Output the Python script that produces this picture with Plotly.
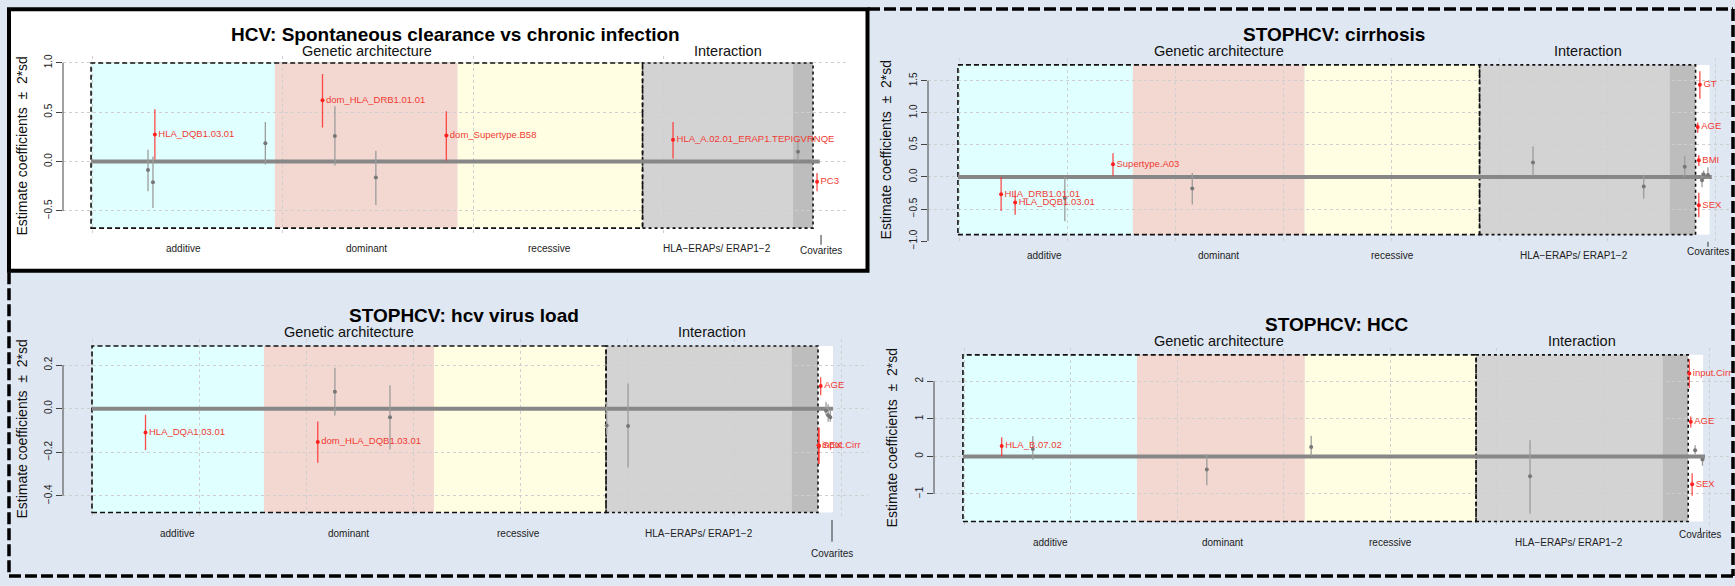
import plotly.graph_objects as go

W, H = 1735, 586
FONT = "Liberation Sans, Arial, Helvetica, sans-serif"

# ------------------------------------------------------------------ data
CATEGORIES = ["additive", "dominant", "recessive", "HLA\u2212ERAPs/ ERAP1\u22122", "Covarites"]
YTITLE = "Estimate coefficients \u00a0\u00b1\u00a0 2*sd"
HEAD_GA = "Genetic architecture"
HEAD_INT = "Interaction"

# Panel 1 : HCV spontaneous clearance
P1_TITLE = "HCV: Spontaneous clearance vs chronic infection"
P1_BOUNDS = [-0.5, 96, 192, 289, 368, 378.5, 378.5]   # additive|dominant|recessive|interaction|dark|white
P1_LABEL_X = [48, 144, 240.4, 328, 382.7]
P1_ZERO_SPAN = [-0.5, 382]
P1_RED_X = [33, 121, 186, 305, 380.6]
P1_RED_EST = [0.275, 0.62, 0.265, 0.22, -0.206]
P1_RED_LO = [0.02, 0.345, 0.01, 0.03, -0.30]
P1_RED_HI = [0.53, 0.886, 0.51, 0.40, -0.117]
P1_RED_LAB = ["HLA_DQB1.03.01", "dom_HLA_DRB1.01.01", "dom_Supertype.B58",
              "HLA_A.02.01_ERAP1.TEPIGVRNQE", "PC3"]
P1_GRAY_X = [29.4, 32, 91, 127.5, 149, 370.6]
P1_GRAY_EST = [-0.087, -0.21, 0.185, 0.26, -0.163, 0.10]
P1_GRAY_LO = [-0.30, -0.47, -0.03, -0.04, -0.44, 0.0]
P1_GRAY_HI = [0.12, 0.05, 0.40, 0.56, 0.11, 0.22]
P1_YTICKS = [-0.5, 0.0, 0.5, 1.0]
P1_YTICKTEXT = ["\u22120.5", "0.0", "0.5", "1.0"]

# Panel 2 : STOPHCV cirrhosis
P2_TITLE = "STOPHCV: cirrhosis"
P2_BOUNDS = [-1, 161, 320, 482, 658, 682, 695]
P2_LABEL_X = [79.6, 240.7, 401, 569, 693.5]
P2_ZERO_SPAN = [-1, 697]
P2_RED_X = [39, 52, 142.6, 686, 684, 685, 685]
P2_RED_EST = [-0.27, -0.40, 0.20, 1.44, 0.78, 0.26, -0.44]
P2_RED_LO = [-0.53, -0.59, 0.02, 1.22, 0.69, 0.17, -0.63]
P2_RED_HI = [0.0, -0.21, 0.37, 1.65, 0.85, 0.34, -0.245]
P2_RED_LAB = ["HLA_DRB1.01.01", "HLA_DQB1.03.01", "Supertype.A03", "GT", "AGE", "BMI", "SEX"]
P2_GRAY_X = [98, 216, 531.5, 634, 672, 688, 689.5, 693.5]
P2_GRAY_EST = [-0.33, -0.18, 0.225, -0.15, 0.16, -0.05, 0.04, 0.03]
P2_GRAY_LO = [-0.69, -0.43, 0.02, -0.34, 0.0, -0.16, 0.0, -0.03]
P2_GRAY_HI = [0.0, 0.06, 0.48, 0.035, 0.33, 0.07, 0.10, 0.15]
P2_YTICKS = [-1.0, -0.5, 0.0, 0.5, 1.0, 1.5]
P2_YTICKTEXT = ["\u22121.0", "\u22120.5", "0.0", "0.5", "1.0", "1.5"]

# Panel 3 : STOPHCV hcv virus load
P3_TITLE = "STOPHCV: hcv virus load"
P3_BOUNDS = [0, 160.7, 319.6, 480.4, 654, 678.5, 692.5]
P3_LABEL_X = [80, 240, 399, 567, 691.6]
P3_ZERO_SPAN = [0, 692.5]
P3_RED_X = [50, 211, 681, 679.5, 679]
P3_RED_EST = [-0.11, -0.153, 0.104, -0.171, -0.168]
P3_RED_LO = [-0.19, -0.248, 0.062, -0.254, -0.25]
P3_RED_HI = [-0.028, -0.059, 0.144, -0.086, -0.09]
P3_RED_LAB = ["HLA_DQA1.03.01", "dom_HLA_DQB1.03.01", "AGE", "SEX", "input.Cirr"]
P3_GRAY_X = [227, 278.5, 481, 501, 686, 688, 690]
P3_GRAY_EST = [0.077, -0.04, -0.077, -0.08, -0.01, -0.03, -0.04]
P3_GRAY_LO = [-0.032, -0.188, -0.12, -0.27, -0.03, -0.06, -0.06]
P3_GRAY_HI = [0.188, 0.107, 0.03, 0.115, 0.03, 0.02, -0.01]
P3_YTICKS = [-0.4, -0.2, 0.0, 0.2]
P3_YTICKTEXT = ["\u22120.4", "\u22120.2", "0.0", "0.2"]

# Panel 4 : STOPHCV HCC
P4_TITLE = "STOPHCV: HCC"
P4_BOUNDS = [-1, 162.4, 320, 480.8, 656, 680, 694]
P4_LABEL_X = [81, 243, 400, 568, 691.5]
P4_ZERO_SPAN = [-1, 695.8]
P4_RED_X = [35.4, 681, 682.4, 683.7]
P4_RED_EST = [0.28, 2.21, 0.92, -0.74]
P4_RED_LO = [0.0, 1.82, 0.77, -1.05]
P4_RED_HI = [0.51, 2.59, 1.06, -0.45]
P4_RED_LAB = ["HLA_B.07.02", "input.Cirr", "AGE", "SEX"]
P4_GRAY_X = [64.6, 228, 326, 531.5, 686.5, 693.4]
P4_GRAY_EST = [0.20, -0.35, 0.25, -0.53, 0.165, -0.08]
P4_GRAY_LO = [-0.09, -0.77, 0.02, -1.53, 0.06, -0.25]
P4_GRAY_HI = [0.54, 0.05, 0.55, 0.43, 0.30, 0.0]
P4_YTICKS = [-1, 0, 1, 2]
P4_YTICKTEXT = ["\u22121", "0", "1", "2"]

# ------------------------------------------------------------------ layout (pixel geometry)
LAYOUT = [
    dict(x0=92, kx=1.905, left=63, right=848, z0=162.3, ky=100.4, top=55.3, bottom=236.7,
         boxtop=62, boxbot=230, title=(455, 33), head_y=50, lab_y=251, cov_y=253,
         cov_tick=(237, 247), ytitle=(22, 147)),
    dict(x0=959, kx=1.08, left=928, right=1733, z0=178, ky=65.2, top=57, bottom=243.7,
         boxtop=64, boxbot=236.7, title=(1334, 33), head_y=50, lab_y=258, cov_y=254,
         cov_tick=(244, 249), ytitle=(886, 150)),
    dict(x0=92, kx=1.07, left=63, right=868, z0=413.7, ky=221.7, top=343.2, bottom=526.1,
         boxtop=350, boxbot=519.3, title=(464, 319), head_y=336, lab_y=541, cov_y=561,
         cov_tick=(527, 549), ytitle=(22, 435)),
    dict(x0=964, kx=1.065, left=934, right=1733, z0=462.3, ky=38.2, top=352.2, bottom=535.3,
         boxtop=359, boxbot=528.5, title=(1337, 328), head_y=345, lab_y=550, cov_y=542,
         cov_tick=(535, 540), ytitle=(892, 444)),
]

PANELS = [
    dict(title=P1_TITLE, bounds=P1_BOUNDS, labx=P1_LABEL_X, zero=P1_ZERO_SPAN,
         red=(P1_RED_X, P1_RED_EST, P1_RED_LO, P1_RED_HI, P1_RED_LAB),
         gray=(P1_GRAY_X, P1_GRAY_EST, P1_GRAY_LO, P1_GRAY_HI),
         yt=P1_YTICKS, ytt=P1_YTICKTEXT),
    dict(title=P2_TITLE, bounds=P2_BOUNDS, labx=P2_LABEL_X, zero=P2_ZERO_SPAN,
         red=(P2_RED_X, P2_RED_EST, P2_RED_LO, P2_RED_HI, P2_RED_LAB),
         gray=(P2_GRAY_X, P2_GRAY_EST, P2_GRAY_LO, P2_GRAY_HI),
         yt=P2_YTICKS, ytt=P2_YTICKTEXT),
    dict(title=P3_TITLE, bounds=P3_BOUNDS, labx=P3_LABEL_X, zero=P3_ZERO_SPAN,
         red=(P3_RED_X, P3_RED_EST, P3_RED_LO, P3_RED_HI, P3_RED_LAB),
         gray=(P3_GRAY_X, P3_GRAY_EST, P3_GRAY_LO, P3_GRAY_HI),
         yt=P3_YTICKS, ytt=P3_YTICKTEXT),
    dict(title=P4_TITLE, bounds=P4_BOUNDS, labx=P4_LABEL_X, zero=P4_ZERO_SPAN,
         red=(P4_RED_X, P4_RED_EST, P4_RED_LO, P4_RED_HI, P4_RED_LAB),
         gray=(P4_GRAY_X, P4_GRAY_EST, P4_GRAY_LO, P4_GRAY_HI),
         yt=P4_YTICKS, ytt=P4_YTICKTEXT),
]

REGION_COLORS = ["#e0ffff", "#f3d8d1", "#fffee3", "#d3d3d3", "#bdbdbd", "#ffffff"]
PAGE_BG = "#dfe7f2"


def px(xp):
    return xp / W


def py(yp):
    return 1 - yp / H


fig = go.Figure()
shapes = []
annotations = []
layout_axes = {}

# page-level backgrounds / borders
shapes.append(dict(type="rect", xref="paper", yref="paper", x0=px(9), x1=px(867.5), y0=py(273.5), y1=py(7.5),
                   fillcolor="white", line=dict(color="black", width=4), layer="below"))
DASH = "12px,4px"
for (xa, ya, xb, yb) in [(868, 7, 1733, 7), (1733, 7, 1733, 584), (9, 584, 1733, 584), (9, 275, 9, 584)]:
    shapes.append(dict(type="line", xref="paper", yref="paper", x0=px(xa), y0=py(ya), x1=px(xb), y1=py(yb),
                       line=dict(color="black", width=3.5, dash=DASH), layer="above"))

for i, (P, L) in enumerate(zip(PANELS, LAYOUT), start=1):
    xa = "x" if i == 1 else f"x{i}"
    ya = "y" if i == 1 else f"y{i}"
    xkey = "xaxis" if i == 1 else f"xaxis{i}"
    ykey = "yaxis" if i == 1 else f"yaxis{i}"

    xr = [(L["left"] - L["x0"]) / L["kx"], (L["right"] - L["x0"]) / L["kx"]]
    yr = [(L["z0"] - L["bottom"]) / L["ky"], (L["z0"] - L["top"]) / L["ky"]]
    btop = (L["z0"] - L["boxtop"]) / L["ky"]
    bbot = (L["z0"] - L["boxbot"]) / L["ky"]

    layout_axes[xkey] = dict(domain=[px(L["left"]), px(L["right"])], range=xr, anchor=ya,
                             showticklabels=False, ticks="", showgrid=True, gridcolor="#cfcfcf",
                             griddash="dot", gridwidth=1, tick0=0, dtick=100, zeroline=False,
                             showline=False, fixedrange=True)
    layout_axes[ykey] = dict(domain=[py(L["bottom"]), py(L["top"])], range=yr, anchor=xa,
                             tickmode="array", tickvals=P["yt"], ticktext=P["ytt"], ticks="outside",
                             ticklen=6, tickcolor="#444", tickwidth=1, tickangle=-90,
                             tickfont=dict(size=10, color="#222", family=FONT),
                             showgrid=True, gridcolor="#cfcfcf", griddash="dot", gridwidth=1,
                             zeroline=False, showline=False, fixedrange=True)

    b = P["bounds"]
    # coloured category regions
    for k in range(6):
        if b[k + 1] <= b[k]:
            continue
        shapes.append(dict(type="rect", xref=xa, yref=ya, x0=b[k], x1=b[k + 1], y0=bbot, y1=btop,
                           fillcolor=REGION_COLORS[k], line=dict(width=0), layer="below"))
    # genetic (dashed) and interaction (dotted) boxes
    shapes.append(dict(type="rect", xref=xa, yref=ya, x0=b[0], x1=b[3], y0=bbot, y1=btop,
                       line=dict(color="#111", width=1.6, dash="5px,3px"), layer="between"))
    shapes.append(dict(type="rect", xref=xa, yref=ya, x0=b[3], x1=b[5], y0=bbot, y1=btop,
                       line=dict(color="#111", width=1.6, dash="dot"), layer="between"))
    # y axis line (between extreme ticks)
    shapes.append(dict(type="line", xref="paper", yref=ya, x0=px(L["left"]), x1=px(L["left"]),
                       y0=min(P["yt"]), y1=max(P["yt"]), line=dict(color="#444", width=1)))
    # covariates tick mark
    shapes.append(dict(type="line", xref=xa, yref="paper", x0=P["labx"][4], x1=P["labx"][4],
                       y0=py(L["cov_tick"][0]), y1=py(L["cov_tick"][1]), line=dict(color="#333", width=1)))

    # zero line (all non-significant variants)
    fig.add_trace(go.Scatter(x=P["zero"], y=[0, 0], mode="lines", xaxis=xa, yaxis=ya,
                             line=dict(color="#878787", width=4), hoverinfo="skip", showlegend=False))
    gx, ge, gl, gh = P["gray"]
    fig.add_trace(go.Scatter(x=gx, y=ge, mode="markers", xaxis=xa, yaxis=ya, showlegend=False,
                             marker=dict(color="#777777", size=4),
                             error_y=dict(type="data", symmetric=False,
                                          array=[h - e for h, e in zip(gh, ge)],
                                          arrayminus=[e - l for e, l in zip(ge, gl)],
                                          color="#9c9c9c", thickness=1.3, width=0)))
    rx, re_, rl, rh, rlab = P["red"]
    fig.add_trace(go.Scatter(x=rx, y=re_, mode="markers+text", xaxis=xa, yaxis=ya, showlegend=False,
                             text=rlab, textposition="middle right", cliponaxis=True,
                             textfont=dict(size=9.5, color="#f03a32", family=FONT),
                             marker=dict(color="#ff2020", size=4),
                             error_y=dict(type="data", symmetric=False,
                                          array=[h - e for h, e in zip(rh, re_)],
                                          arrayminus=[e - l for e, l in zip(re_, rl)],
                                          color="rgba(255,45,45,0.85)", thickness=1.3, width=0)))

    # texts
    annotations.append(dict(xref="paper", yref="paper", x=px(L["title"][0]), y=py(L["title"][1]),
                            text="<b>" + P["title"] + "</b>", showarrow=False, xanchor="center",
                            yanchor="middle", font=dict(size=19, color="black", family=FONT)))
    annotations.append(dict(xref=xa, yref="paper", x=(b[0] + b[3]) / 2, y=py(L["head_y"]), text=HEAD_GA,
                            showarrow=False, xanchor="center", yanchor="middle",
                            font=dict(size=14.5, color="#111", family=FONT)))
    annotations.append(dict(xref=xa, yref="paper", x=(b[3] + b[5]) / 2, y=py(L["head_y"]), text=HEAD_INT,
                            showarrow=False, xanchor="center", yanchor="middle",
                            font=dict(size=14.5, color="#111", family=FONT)))
    for k, (cx, cname) in enumerate(zip(P["labx"], CATEGORIES)):
        yy = L["cov_y"] if k == 4 else L["lab_y"]
        annotations.append(dict(xref=xa, yref="paper", x=cx, y=py(yy), text=cname, showarrow=False,
                                xanchor="center", yanchor="middle",
                                font=dict(size=10, color="#222", family=FONT)))
    annotations.append(dict(xref="paper", yref="paper", x=px(L["ytitle"][0]), y=py(L["ytitle"][1]),
                            text=YTITLE, textangle=-90, showarrow=False, xanchor="center",
                            yanchor="middle", font=dict(size=14, color="#111", family=FONT)))

fig.update_layout(width=W, height=H, margin=dict(l=0, r=0, t=0, b=0), autosize=False,
                  paper_bgcolor=PAGE_BG, plot_bgcolor="rgba(0,0,0,0)", showlegend=False,
                  shapes=shapes, annotations=annotations, font=dict(family=FONT), **layout_axes)

fig.write_html("out.html", config={"displayModeBar": False})
